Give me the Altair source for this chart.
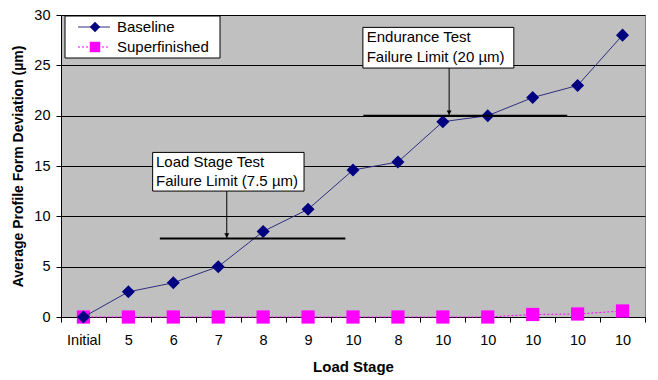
import altair as alt
import pandas as pd

stages = ["Initial", "5", "6", "7", "8", "9", "10", "8", "10", "10", "10", "10", "10"]
baseline = [0.0, 2.5, 3.4, 5.0, 8.5, 10.7, 14.6, 15.4, 19.4, 20.0, 21.8, 23.0, 28.0]
superfinished = [0.0, 0.0, 0.0, 0.0, 0.0, 0.0, 0.0, 0.0, 0.0, 0.0, 0.25, 0.3, 0.6]

FONT = "Liberation Sans"

idx = list(range(len(stages)))
df_b = pd.DataFrame({"i": idx, "v": baseline})
df_s = pd.DataFrame({"i": idx, "v": superfinished})

label_expr = "[" + ",".join("'" + s + "'" for s in stages) + "][datum.value]"

xscale = alt.Scale(type="band", paddingInner=0, paddingOuter=0)
xaxis = alt.Axis(
    title="Load Stage", labelExpr=label_expr, labelAngle=0, tickBand="extent",
    labelFont=FONT, labelFontSize=14.5, labelColor="black", labelPadding=11,
    titleFont=FONT, titleFontSize=15, titleFontWeight="bold", titleColor="black",
    titlePadding=13, tickSize=5, tickColor="black", domainColor="black", grid=False,
)
yscale = alt.Scale(domain=[0, 30], nice=False)
yaxis = alt.Axis(
    title="Average Profile Form Deviation (µm)", values=[0, 5, 10, 15, 20, 25, 30],
    labelFont=FONT, labelFontSize=14.5, labelColor="black", labelPadding=6,
    titleFont=FONT, titleFontSize=14, titleFontWeight="bold", titleColor="black",
    titlePadding=8, tickSize=5, tickColor="black", domainColor="black",
    grid=True, gridColor="black", gridWidth=1,
)

X = alt.X("i:O", scale=xscale, axis=xaxis, bandPosition=0.5)
Y = alt.Y("v:Q", scale=yscale, axis=yaxis)

b_line = alt.Chart(df_b).mark_line(color="#2E2E80", strokeWidth=1).encode(x=X, y=Y)
b_pts = alt.Chart(df_b).mark_point(shape="diamond", filled=True, color="#000080", size=170, opacity=1).encode(x=X, y=Y)
s_line = alt.Chart(df_s).mark_line(color="#FF00FF", strokeWidth=1, strokeDash=[2, 2]).encode(x=X, y=Y)
s_pts = alt.Chart(df_s).mark_point(shape="square", filled=True, color="#FF00FF", size=175, opacity=1).encode(x=X, y=Y)

main = alt.layer(s_line, s_pts, b_line, b_pts)

# annotation layer (quantitative x over the same band extent)
AX = alt.Scale(domain=[-0.5, 12.5], nice=False, zero=False)

limits = pd.DataFrame({"x": [1.70, 6.23], "x2": [5.83, 10.77], "v": [7.8, 20.0]})
boxes = pd.DataFrame({"x": [1.54, 6.22], "x2": [4.91, 9.58], "v": [12.51, 24.73], "v2": [16.35, 28.77]})
arrows = pd.DataFrame({"x": [3.19, 8.14], "v": [12.51, 24.73], "v2": [7.8, 20.0]})
texts = pd.DataFrame({
    "x": [1.615, 1.615, 6.305, 6.305],
    "v": [15.4, 13.5, 27.8, 25.85],
    "t": ["Load Stage Test", "Failure Limit (7.5 µm)", "Endurance Test", "Failure Limit (20 µm)"],
})

lim_rule = alt.Chart(limits).mark_rule(color="black", strokeWidth=2).encode(
    x=alt.X("x:Q", scale=AX, axis=None), x2="x2", y=alt.Y("v:Q", scale=yscale))
box_rect = alt.Chart(boxes).mark_rect(fill="white", stroke="black", strokeWidth=1).encode(
    x=alt.X("x:Q", scale=AX, axis=None), x2="x2", y=alt.Y("v:Q", scale=yscale), y2="v2")
arr_rule = alt.Chart(arrows).mark_rule(color="black", strokeWidth=1).encode(
    x=alt.X("x:Q", scale=AX, axis=None), y=alt.Y("v:Q", scale=yscale), y2="v2")
arr_head = alt.Chart(arrows).mark_point(shape="triangle-down", filled=True, color="black", size=25, opacity=1, yOffset=-3).encode(
    x=alt.X("x:Q", scale=AX, axis=None), y=alt.Y("v2:Q", scale=yscale))
txt = alt.Chart(texts).mark_text(align="left", baseline="middle", font=FONT, fontSize=15, color="black").encode(
    x=alt.X("x:Q", scale=AX, axis=None), y=alt.Y("v:Q", scale=yscale), text="t:N")

# legend
leg_names = ["Baseline", "Superfinished"]
leg = pd.DataFrame({"n": leg_names, "yy": [12, 32]})
leg_box = alt.Chart(pd.DataFrame({"a": [0]})).mark_rect(fill="white", stroke="black", strokeWidth=1).encode(
    x=alt.value(4), x2=alt.value(159), y=alt.value(1), y2=alt.value(43))
leg_l1 = alt.Chart(pd.DataFrame({"a": [0]})).mark_rule(color="#2E2E80", strokeWidth=1).encode(
    x=alt.value(17), x2=alt.value(49), y=alt.value(12))
leg_l2 = alt.Chart(pd.DataFrame({"a": [0]})).mark_rule(color="#FF00FF", strokeWidth=1, strokeDash=[2, 2]).encode(
    x=alt.value(17), x2=alt.value(49), y=alt.value(32))
leg_p1 = alt.Chart(pd.DataFrame({"a": [0]})).mark_point(shape="diamond", filled=True, color="#000080", size=110, opacity=1).encode(
    x=alt.value(34), y=alt.value(12))
leg_p2 = alt.Chart(pd.DataFrame({"a": [0]})).mark_point(shape="square", filled=True, color="#FF00FF", size=110, opacity=1).encode(
    x=alt.value(34), y=alt.value(32))
leg_t = alt.Chart(leg).mark_text(align="left", baseline="middle", font=FONT, fontSize=15, color="black").encode(
    x=alt.value(56), y=alt.Y("yy:Q", scale=None), text="n:N")

annot = alt.layer(lim_rule, arr_rule, arr_head, box_rect, txt, leg_box, leg_l1, leg_l2, leg_p1, leg_p2, leg_t)

chart = alt.layer(main, annot).resolve_scale(x="independent").properties(
    width=584, height=302,
    autosize=alt.AutoSizeParams(type="none"),
    padding={"left": 53, "top": 7, "right": 5, "bottom": 63},
    background="white",
).configure_view(fill="#C0C0C0", stroke="#808080", strokeWidth=1)

chart.save("out.html", embed_options={"renderer": "svg", "actions": False})
